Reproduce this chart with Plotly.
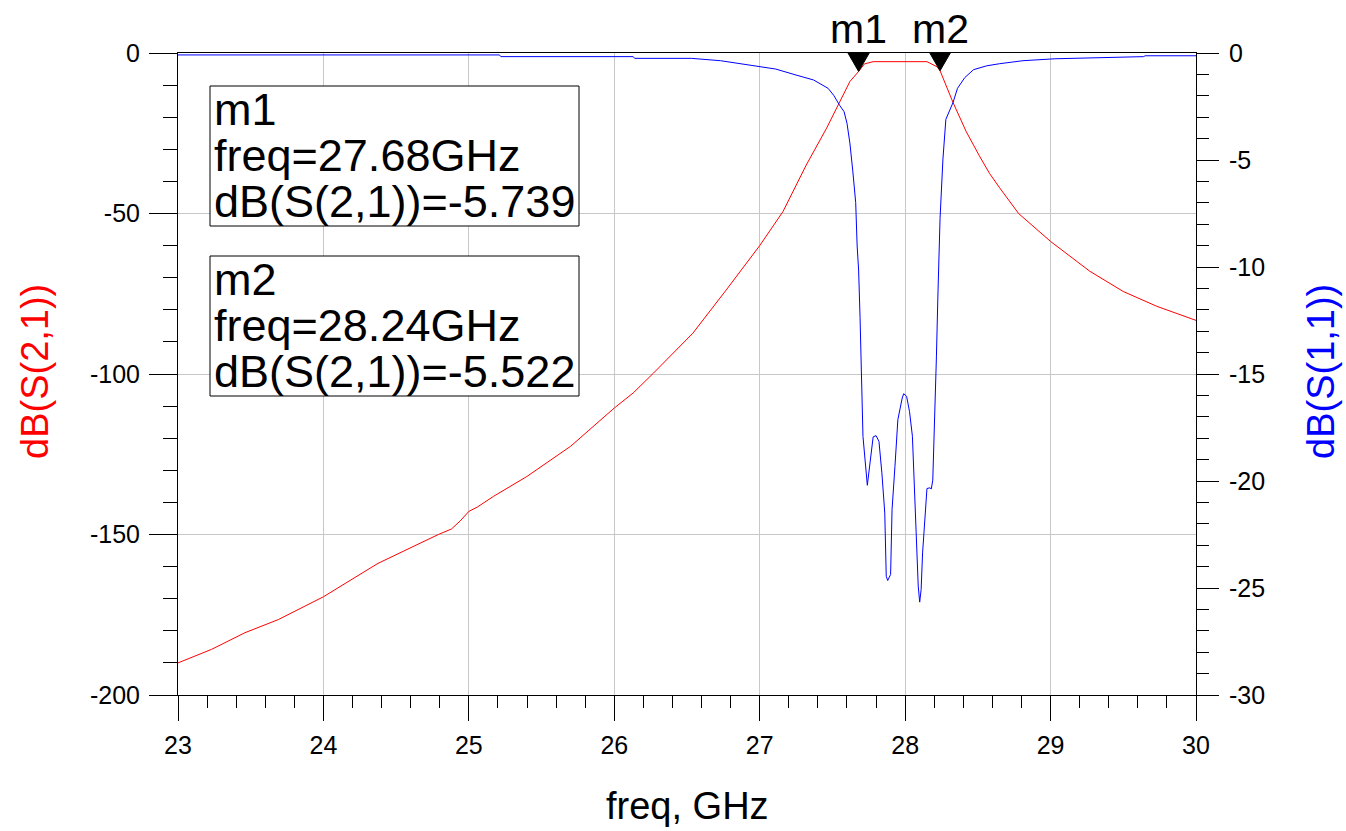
import plotly.graph_objects as go

# ---------------- data ----------------
s21_freq = [23.00, 23.23, 23.46, 23.69, 24.00, 24.375, 24.79, 24.88, 24.94, 25.00, 25.06,
            25.17, 25.40, 25.70, 26.00, 26.13, 26.27, 26.54, 26.77, 27.00, 27.16, 27.32,
            27.46, 27.55, 27.62, 27.68, 27.72, 27.78, 28.15, 28.22, 28.24, 28.33, 28.42,
            28.51, 28.58, 28.65, 28.78, 29.00, 29.27, 29.50, 29.73, 30.00]
s21_db = [-190.0, -185.8, -180.6, -176.5, -169.4, -159.0, -150.0, -148.3, -145.8, -142.8, -141.4,
          -138.1, -131.9, -122.5, -110.6, -105.9, -99.7, -87.3, -73.8, -60.0, -49.4, -34.9,
          -23.4, -15.2, -8.9, -5.739, -3.4, -2.7, -2.7, -4.3, -5.522, -15.5, -24.5,
          -32.0, -37.5, -42.0, -50.0, -58.7, -68.0, -74.3, -78.9, -83.3]

s11_freq = [23.00, 25.21, 25.22, 26.13, 26.14, 26.53, 26.73, 26.88, 26.99, 27.11, 27.25, 27.37,
            27.47, 27.51, 27.55, 27.58, 27.60, 27.62, 27.64, 27.66, 27.67, 27.68, 27.69, 27.70,
            27.71, 27.74, 27.76, 27.78, 27.80, 27.82, 27.84, 27.86, 27.87, 27.88, 27.90, 27.91,
            27.93, 27.94, 27.95, 27.98, 27.99, 28.01, 28.03, 28.05, 28.06, 28.08, 28.09, 28.10,
            28.11, 28.12, 28.14, 28.15, 28.17, 28.18, 28.19, 28.20, 28.215, 28.225, 28.24, 28.26,
            28.28, 28.33, 28.36, 28.41, 28.47, 28.56, 28.65, 28.81, 29.03, 29.64, 29.65, 30.00]
s11_db = [-0.09, -0.09, -0.17, -0.17, -0.25, -0.25, -0.36, -0.51, -0.64, -0.75, -1.03, -1.26,
          -1.65, -1.99, -2.45, -2.74, -3.28, -4.21, -5.51, -6.99, -9.02, -10.14, -12.36, -14.58,
          -17.92, -20.2, -19.15, -17.94, -17.88, -18.15, -19.62, -21.5, -24.45, -24.65, -24.37, -21.34,
          -19.31, -18.38, -17.13, -16.12, -15.92, -16.04, -16.75, -17.91, -19.62, -22.42, -24.91, -25.66,
          -25.07, -23.36, -21.02, -20.35, -20.32, -20.37, -19.96, -17.92, -14.2, -11.4, -7.73, -4.95,
          -3.10, -2.30, -1.65, -1.15, -0.78, -0.60, -0.50, -0.36, -0.27, -0.17, -0.13, -0.13]

marker_names = ["m1", "m2"]
marker_freq = [27.68, 28.24]
marker_s21 = [-5.739, -5.522]

x_ticks = [23, 24, 25, 26, 27, 28, 29, 30]
x_ticktext = ["23", "24", "25", "26", "27", "28", "29", "30"]
yl_ticks = [0, -50, -100, -150, -200]
yl_ticktext = ["0", "-50", "-100", "-150", "-200"]
yr_ticks = [0, -5, -10, -15, -20, -25, -30]
yr_ticktext = ["0", "-5", "-10", "-15", "-20", "-25", "-30"]

# ---------------- layout geometry ----------------
W, H = 1346, 831
L, R, T, B = 178, 1196, 53, 695          # plot area in page pixels
PW, PH = R - L, B - T


def px(xp):
    return (xp - L) / PW


def py(yp):
    return (B - yp) / PH


FONT = "Liberation Sans, Arial, sans-serif"
GRID = "#c8c8c8"

fig = go.Figure()
fig.add_trace(go.Scatter(x=s21_freq, y=s21_db, mode="lines",
                         line=dict(color="#ff0000", width=1), yaxis="y", name="dB(S(2,1))"))
fig.add_trace(go.Scatter(x=s11_freq, y=s11_db, mode="lines",
                         line=dict(color="#0000ff", width=1), yaxis="y2", name="dB(S(1,1))"))

annotations = []
shapes = []

# marker triangles and labels
for name, f, v in zip(marker_names, marker_freq, marker_s21):
    shapes.append(dict(type="path", xref="x", yref="y", xsizemode="pixel", ysizemode="pixel",
                       xanchor=f, yanchor=v, path="M0,0 L-11,19 L11,19 Z",
                       fillcolor="black", line=dict(color="black", width=1), layer="above"))
    annotations.append(dict(x=f, y=1, xref="x", yref="paper", text=name, showarrow=False,
                            xanchor="center", yanchor="bottom", yshift=-1,
                            font=dict(family=FONT, size=41, color="black")))

# marker readout boxes
box_tops = [86, 256]
box_h = 140
for i, (name, f, v) in enumerate(zip(marker_names, marker_freq, marker_s21)):
    top = box_tops[i]
    shapes.append(dict(type="rect", xref="paper", yref="paper", x0=px(210), x1=px(579),
                       y0=py(top), y1=py(top + box_h), fillcolor="white",
                       line=dict(color="black", width=1), layer="above"))
    lines = [name, f"freq={f:.2f}GHz", f"dB(S(2,1))={v:.3f}"]
    for j, txt in enumerate(lines):
        annotations.append(dict(x=px(212), y=py(top + 23 + 46 * j), xref="paper", yref="paper",
                                text=txt, showarrow=False, xanchor="left", yanchor="middle",
                                font=dict(family=FONT, size=45, color="black")))

# axis titles
annotations.append(dict(x=0.5, y=py(806), xref="paper", yref="paper", text="freq, GHz",
                        showarrow=False, xanchor="center", yanchor="middle",
                        font=dict(family=FONT, size=38, color="black")))
annotations.append(dict(x=px(35), y=py(372), xref="paper", yref="paper", text="dB(S(2,1))",
                        showarrow=False, xanchor="center", yanchor="middle", textangle=-90,
                        font=dict(family=FONT, size=38, color="#ff0000")))
annotations.append(dict(x=px(1321), y=py(372), xref="paper", yref="paper", text="dB(S(1,1))",
                        showarrow=False, xanchor="center", yanchor="middle", textangle=-90,
                        font=dict(family=FONT, size=38, color="#0000ff")))

tickfont = dict(family=FONT, size=25, color="black")

fig.update_layout(
    width=W, height=H,
    margin=dict(l=L, r=W - R, t=T, b=H - B, autoexpand=False),
    paper_bgcolor="white", plot_bgcolor="white",
    showlegend=False,
    xaxis=dict(range=[23, 30], tickmode="array", tickvals=x_ticks, ticktext=x_ticktext,
               ticks="outside", ticklen=25, tickcolor="black", tickwidth=1,
               showline=True, linecolor="black", linewidth=1, mirror=True,
               showgrid=True, gridcolor=GRID, gridwidth=1, zeroline=False,
               tickfont=tickfont, ticklabelstandoff=3,
               minor=dict(dtick=0.2, tick0=23, ticks="outside", ticklen=12,
                          tickcolor="black", showgrid=False)),
    yaxis=dict(range=[-200, 0], tickmode="array", tickvals=yl_ticks, ticktext=yl_ticktext,
               ticks="outside", ticklen=28, tickcolor="black", tickwidth=1,
               showline=True, linecolor="black", linewidth=1,
               showgrid=True, gridcolor=GRID, gridwidth=1, zeroline=False,
               tickfont=tickfont, ticklabelstandoff=4,
               minor=dict(dtick=10, tick0=0, ticks="outside", ticklen=14,
                          tickcolor="black", showgrid=False)),
    yaxis2=dict(range=[-30, 0], overlaying="y", side="right", tickmode="array",
                tickvals=yr_ticks, ticktext=yr_ticktext,
                ticks="outside", ticklen=22, tickcolor="black", tickwidth=1,
                showline=True, linecolor="black", linewidth=1,
                showgrid=False, zeroline=False,
                tickfont=tickfont, ticklabelstandoff=5,
                minor=dict(dtick=1, tick0=0, ticks="outside", ticklen=12,
                           tickcolor="black", showgrid=False)),
    shapes=shapes,
    annotations=annotations,
)

# remove the default 8px page margin so the figure fills the window exactly
fig.write_html("out.html",
               config={"displayModeBar": False},
               post_script="document.body.style.margin='0';document.body.style.overflow='hidden';")
